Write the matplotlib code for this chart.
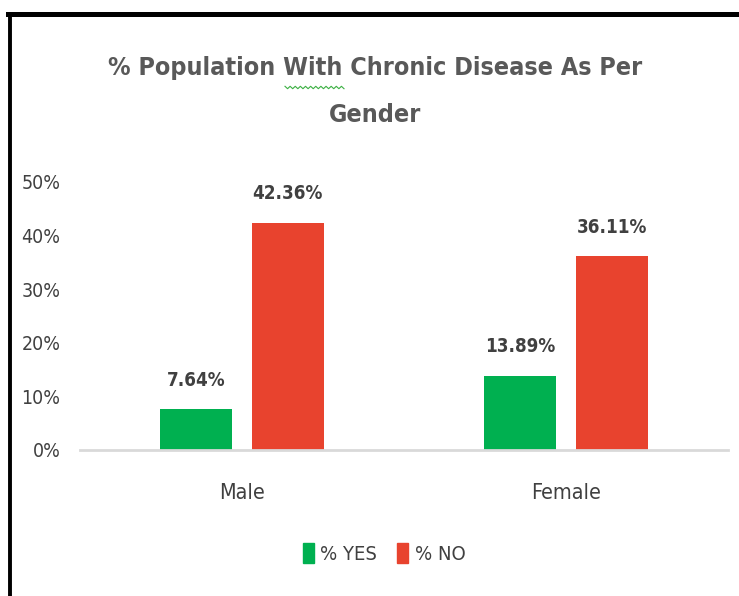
import matplotlib
matplotlib.use("Agg")
import matplotlib.pyplot as plt
from matplotlib.lines import Line2D
from matplotlib.patches import Patch
import numpy as np

categories = ["Male", "Female"]
pct_yes = [7.64, 13.89]
pct_no = [42.36, 36.11]
yticks = [0, 10, 20, 30, 40, 50]

green = "#00B050"
red = "#E8432E"
txt = "#404040"

plt.rcParams['font.family'] = ['Liberation Sans Narrow', 'DejaVu Sans']
plt.rcParams['font.stretch'] = 'condensed'

fig = plt.figure(figsize=(7.39, 5.96), dpi=100)
ax = fig.add_axes([0.1083, 0.245, 0.877, 0.4497])

x = np.arange(len(categories))
w = 0.222
off = 0.141
b1 = ax.bar(x - off, pct_yes, w, color=green, label="% YES")
b2 = ax.bar(x + off, pct_no, w, color=red, label="% NO")

for bars, vals in [(b1, pct_yes), (b2, pct_no)]:
    for r, v in zip(bars, vals):
        ax.annotate(f"{v:.2f}%", (r.get_x() + r.get_width() / 2, v),
                    xytext=(0, 14), textcoords="offset points",
                    ha="center", va="bottom", fontsize=13.5, fontweight="bold", color=txt)

ax.set_xlim(-0.5, 1.5)
ax.set_ylim(0, 50)
ax.set_yticks(yticks)
ax.set_yticklabels([f"{t}%" for t in yticks])
ax.set_xticks(x)
ax.set_xticklabels(categories)
ax.tick_params(axis="y", length=0, pad=14, labelsize=14, labelcolor=txt)
ax.tick_params(axis="x", length=0, pad=24, labelsize=15.5, labelcolor=txt)

for s in ["top", "right", "left"]:
    ax.spines[s].set_visible(False)
ax.spines["bottom"].set_color("#d9d9d9")
ax.spines["bottom"].set_linewidth(2)

fig.text(0.508, 0.847, "% Population With Chronic Disease As Per\nGender",
         ha="center", va="center", fontsize=18, fontweight="bold", color="#595959",
         linespacing=2.2)

# spell-check squiggle under "With"
sx = np.linspace(285, 344, 24) / 739
sy = 1 - (87.5 + np.where(np.arange(24) % 2 == 0, -1.2, 1.2)) / 596
fig.add_artist(Line2D(sx, sy, color="#3cb043", lw=0.8))

handles = [Patch(color=green), Patch(color=red)]
fig.legend(handles, ["% YES", "% NO"], loc="center", bbox_to_anchor=(0.52, 0.072),
           ncol=2, frameon=False, fontsize=14.5, labelcolor=txt,
           handlelength=0.55, handleheight=1.2, handletextpad=0.3, columnspacing=1.0)

# frame lines around the chart
fig.add_artist(Line2D([8 / 739, 1], [1 - 13.5 / 596] * 2, color="black", lw=3.6))
fig.add_artist(Line2D([9.5 / 739] * 2, [0, 1 - 13.5 / 596], color="black", lw=2.8))

fig.savefig("out.png", dpi=100)
